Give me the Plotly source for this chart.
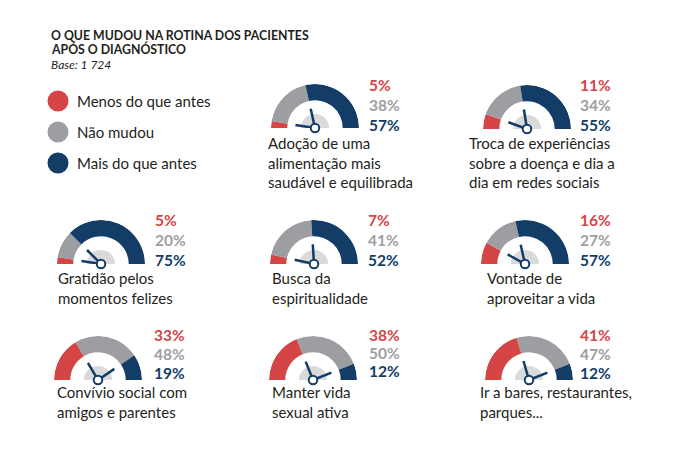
import plotly.graph_objects as go

W, H = 680, 453

# ---------------- data ----------------
categories = [
    "Adoção de uma<br>alimentação mais<br>saudável e equilibrada",
    "Troca de experiências<br>sobre a doença e dia a<br>dia em redes sociais",
    "Gratidão pelos<br>momentos felizes",
    "Busca da<br>espiritualidade",
    "Vontade de<br>aproveitar a vida",
    "Convívio social com<br>amigos e parentes",
    "Manter vida<br>sexual ativa",
    "Ir a bares, restaurantes,<br>parques...",
]
menos = [5, 11, 5, 7, 16, 33, 38, 41]
nao_mudou = [38, 34, 20, 41, 27, 48, 50, 47]
mais = [57, 55, 75, 52, 57, 19, 12, 12]
series_names = ["Menos do que antes", "Não mudou", "Mais do que antes"]
title_lines = ["O QUE MUDOU NA ROTINA DOS PACIENTES", "APÓS O DIAGNÓSTICO"]
subtitle = "Base: 1 724"

# ---------------- style / layout ----------------
RED, GRAY, NAVY = "#d64545", "#9d9ea2", "#133d66"
HUB = "#dadada"
TXT = "#231f20"
FONT = "Lato"

OFF = 8          # page body margin compensation (px)
R = 44           # outer radius (px)
R_IN = 0.63      # inner radius as fraction
R_HUB = 0.32
HAND = 0.45

centers = [(315, 128), (527, 129), (101, 264), (314, 264), (525, 264),
           (98, 380), (313, 380), (529, 380)]
label_xy = [(266, 143), (467, 143), (56, 278), (270, 278), (485, 278),
            (55, 392), (270, 392), (478, 392)]
pct_x = [367, 578, 153, 366, 578, 152, 367, 578]
pct_y = [(85, 105, 125), (85, 105, 125), (220, 240, 260), (220, 240, 260),
         (220, 240, 260), (335, 354, 373), (335, 353, 371), (335, 354, 373)]


def px(x):
    return (x - OFF) / W


def py(y):
    return 1 - (y - OFF) / H


fig = go.Figure()
layout_polars = {}
annotations = []

for i, cat in enumerate(categories):
    cx, cy = centers[i]
    pname = "polar" if i == 0 else f"polar{i+1}"
    sub = pname
    layout_polars[pname] = dict(
        domain=dict(x=[px(cx - R), px(cx + R)], y=[py(cy), py(cy - R)]),
        sector=[0, 180],
        hole=0,
        bgcolor="rgba(0,0,0,0)",
        angularaxis=dict(rotation=180, direction="clockwise", visible=False,
                         showgrid=False, showline=False, showticklabels=False, ticks=""),
        radialaxis=dict(range=[0, 1], visible=False, showgrid=False,
                        showline=False, showticklabels=False, ticks=""),
    )
    vals = [menos[i], nao_mudou[i], mais[i]]
    cols = [RED, GRAY, NAVY]
    start = 0.0
    bounds = []
    for v, c, nm in zip(vals, cols, series_names):
        w = v * 1.8
        fig.add_trace(go.Barpolar(
            r=[1 - R_IN], base=[R_IN], theta=[start + w / 2], width=[w],
            marker=dict(color=c, line=dict(width=0)), name=nm,
            subplot=sub, showlegend=False, hoverinfo="name+text",
            text=[f"{v}%"]))
        start += w
        bounds.append(start)
    # hub
    fig.add_trace(go.Barpolar(
        r=[R_HUB], base=[0], theta=[90], width=[180],
        marker=dict(color=HUB, line=dict(width=0)), subplot=sub,
        showlegend=False, hoverinfo="skip"))
    # hands pointing at segment boundaries
    for b in bounds[:2]:
        fig.add_trace(go.Scatterpolar(
            r=[0, HAND], theta=[b, b], mode="lines",
            line=dict(color=NAVY, width=2.5), subplot=sub,
            showlegend=False, hoverinfo="skip", cliponaxis=False))
    fig.add_trace(go.Scatterpolar(
        r=[0], theta=[90], mode="markers",
        marker=dict(size=8.5, color="white", line=dict(color=NAVY, width=2)),
        subplot=sub, showlegend=False, hoverinfo="skip", cliponaxis=False))

    # percentages
    for v, c, yy in zip(vals, cols, pct_y[i]):
        annotations.append(dict(
            x=px(pct_x[i]), y=py(yy), xref="paper", yref="paper",
            text=f"<b>{v}%</b>", showarrow=False, xanchor="left", yanchor="middle",
            font=dict(family=FONT, size=15.5, color=c)))
    # label lines
    lx, ly = label_xy[i]
    for k, line in enumerate(cat.split("<br>")):
        annotations.append(dict(
            x=px(lx), y=py(ly + k * 19.5), xref="paper", yref="paper",
            text=line, showarrow=False, xanchor="left", yanchor="middle",
            font=dict(family=FONT, size=15, color=TXT)))

# legend (markers on a pixel-scaled cartesian axis)
leg_y = [101, 132, 163]
fig.add_trace(go.Scatter(
    x=[58 - OFF] * 3, y=[v - OFF for v in leg_y], mode="markers",
    marker=dict(size=21, color=[RED, GRAY, NAVY]),
    showlegend=False, hoverinfo="skip", xaxis="x", yaxis="y", cliponaxis=False))
for nm, yy in zip(series_names, leg_y):
    annotations.append(dict(
        x=px(75), y=py(yy), xref="paper", yref="paper", text=nm,
        showarrow=False, xanchor="left", yanchor="middle",
        font=dict(family=FONT, size=15, color=TXT)))

# title
for k, t in enumerate(title_lines):
    annotations.append(dict(
        x=px(49), y=py(36 + k * 13), xref="paper", yref="paper",
        text=f"<b>{t}</b>", showarrow=False, xanchor="left", yanchor="middle",
        font=dict(family=FONT, size=12.3, color=TXT)))
annotations.append(dict(
    x=px(49), y=py(65), xref="paper", yref="paper", text=f"<i>{subtitle}</i>",
    showarrow=False, xanchor="left", yanchor="middle",
    font=dict(family=FONT, size=12, color=TXT)))

fig.update_layout(
    width=W, height=H, margin=dict(l=0, r=0, t=0, b=0),
    paper_bgcolor="white", plot_bgcolor="rgba(0,0,0,0)",
    xaxis=dict(range=[0, W], domain=[0, 1], visible=False, fixedrange=True),
    yaxis=dict(range=[H, 0], domain=[0, 1], visible=False, fixedrange=True),
    annotations=annotations, showlegend=False,
    barmode="overlay",
    **layout_polars,
)

fig.write_html("out.html")
